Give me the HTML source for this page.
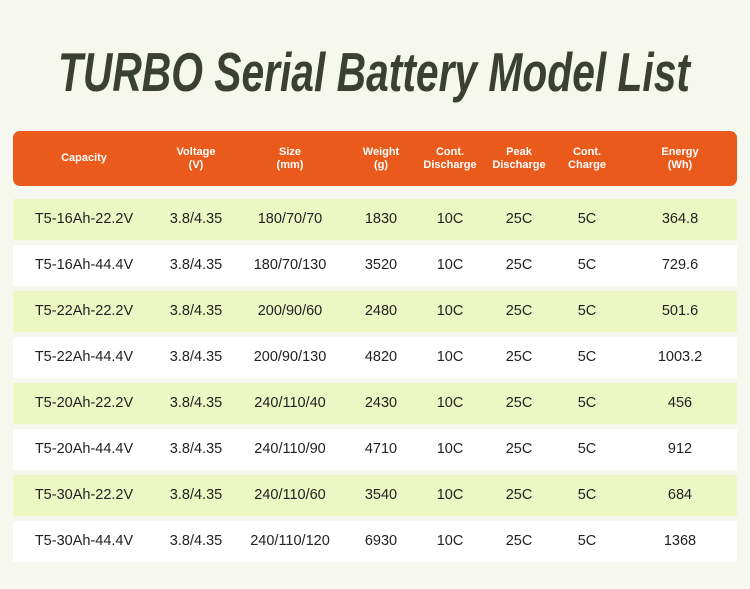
<!DOCTYPE html>
<html><head><meta charset="utf-8"><style>
body{margin:0;width:750px;height:589px;background:#f6f7ef;font-family:"Liberation Sans",sans-serif;position:relative;overflow:hidden}
.hdr{position:absolute;left:13px;top:131px;width:724px;height:55px;background:#ea5a1b;border-radius:7px}
.row{position:absolute;left:13px;width:724px;height:41px}
.c{position:absolute;top:0;transform:translateX(-50%);text-align:center;white-space:nowrap}
.hdr .c{color:#fff;font-weight:bold;font-size:11px;line-height:13px;top:15px}
.row .c{color:#222;font-size:14.5px;line-height:41px}
</style></head><body>
<svg width="750" height="110" style="position:absolute;left:0;top:0">
<text x="58" y="91" textLength="632" lengthAdjust="spacingAndGlyphs" font-family="Liberation Sans" font-weight="bold" font-style="italic" font-size="55" fill="#3a4034">TURBO Serial Battery Model List</text>
</svg>
<div class="hdr">
<div class="c" style="left:71px;top:21px">Capacity</div>
<div class="c" style="left:183px">Voltage<br>(V)</div>
<div class="c" style="left:277px">Size<br>(mm)</div>
<div class="c" style="left:368px">Weight<br>(g)</div>
<div class="c" style="left:437px">Cont.<br>Discharge</div>
<div class="c" style="left:506px">Peak<br>Discharge</div>
<div class="c" style="left:574px">Cont.<br>Charge</div>
<div class="c" style="left:667px">Energy<br>(Wh)</div>
</div>
<div id="rows"></div>
<script>
var d=[["T5-16Ah-22.2V","180/70/70","1830","364.8"],["T5-16Ah-44.4V","180/70/130","3520","729.6"],["T5-22Ah-22.2V","200/90/60","2480","501.6"],["T5-22Ah-44.4V","200/90/130","4820","1003.2"],["T5-20Ah-22.2V","240/110/40","2430","456"],["T5-20Ah-44.4V","240/110/90","4710","912"],["T5-30Ah-22.2V","240/110/60","3540","684"],["T5-30Ah-44.4V","240/110/120","6930","1368"]];
var h="";d.forEach(function(r,i){h+='<div class="row" style="top:'+(199+46*i)+'px;background:'+(i%2?'#ffffff':'#ecf7c3')+'">'+
'<div class="c" style="left:71px">'+r[0]+'</div><div class="c" style="left:183px">3.8/4.35</div><div class="c" style="left:277px">'+r[1]+'</div><div class="c" style="left:368px">'+r[2]+'</div><div class="c" style="left:437px">10C</div><div class="c" style="left:506px">25C</div><div class="c" style="left:574px">5C</div><div class="c" style="left:667px">'+r[3]+'</div></div>';});
document.getElementById("rows").innerHTML=h;
</script>
</body></html>
